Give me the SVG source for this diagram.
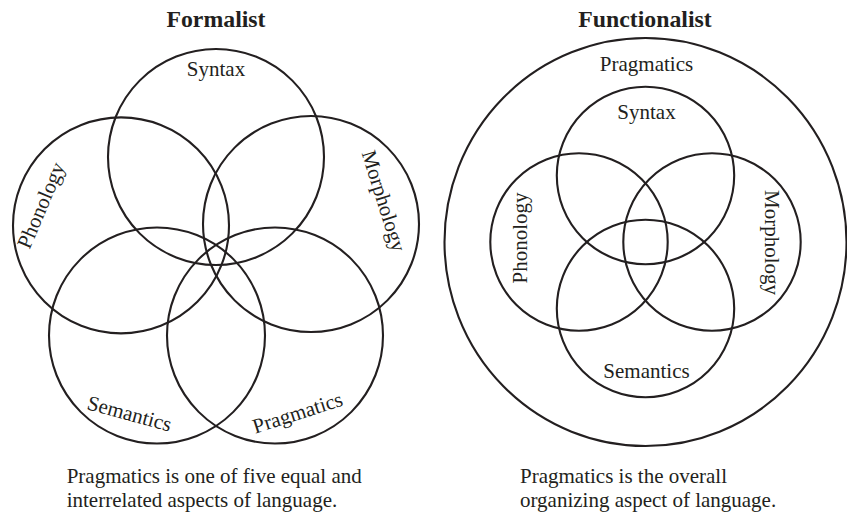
<svg xmlns="http://www.w3.org/2000/svg" width="847" height="512" viewBox="0 0 847 512">
  <style>
    .ring { fill: none; stroke: #231f20; stroke-width: 2.1; }
    .lbl { font-family: "Liberation Serif", "Times New Roman", serif; font-size: 21px; fill: #231f20; text-anchor: middle; }
    .title { font-family: "Liberation Serif", "Times New Roman", serif; font-size: 23.8px; font-weight: bold; fill: #231f20; text-anchor: middle; }
    .cap { font-family: "Liberation Serif", "Times New Roman", serif; font-size: 21px; fill: #231f20; }
  </style>
  <rect width="847" height="512" fill="#ffffff"/>

  <!-- Formalist -->
  <g id="formalist">
    <text class="title" x="216" y="26.7">Formalist</text>
    <g id="f-syntax">
      <circle class="ring" cx="216" cy="157" r="108"/>
      <text class="lbl" x="216" y="75.5">Syntax</text>
    </g>
    <g id="f-phonology">
      <circle class="ring" cx="121" cy="225.4" r="108"/>
      <text class="lbl" transform="translate(47.4,208) rotate(-67)">Phonology</text>
    </g>
    <g id="f-morphology">
      <circle class="ring" cx="311" cy="224" r="108"/>
      <text class="lbl" transform="translate(377.2,203) rotate(72.6)">Morphology</text>
    </g>
    <g id="f-semantics">
      <circle class="ring" cx="157" cy="335.5" r="108"/>
      <text class="lbl" transform="translate(127.7,420.3) rotate(15.3)">Semantics</text>
    </g>
    <g id="f-pragmatics">
      <circle class="ring" cx="275" cy="335.5" r="108"/>
      <text class="lbl" transform="translate(299.7,419.4) rotate(-17.8)">Pragmatics</text>
    </g>
    <text class="cap" x="66.7" y="483.3">Pragmatics is one of five equal and</text>
    <text class="cap" x="66.7" y="506.7">interrelated aspects of language.</text>
  </g>

  <!-- Functionalist -->
  <g id="functionalist">
    <text class="title" x="645" y="26.7">Functionalist</text>
    <g id="u-pragmatics">
      <ellipse class="ring" cx="645.5" cy="242" rx="201" ry="204"/>
      <text class="lbl" x="646.5" y="71">Pragmatics</text>
    </g>
    <g id="u-syntax">
      <circle class="ring" cx="645.5" cy="175.5" r="88.7"/>
      <text class="lbl" x="646.5" y="119">Syntax</text>
    </g>
    <g id="u-phonology">
      <circle class="ring" cx="579" cy="242" r="88.7"/>
      <text class="lbl" transform="translate(527,238) rotate(-90)">Phonology</text>
    </g>
    <g id="u-morphology">
      <circle class="ring" cx="712" cy="242" r="88.7"/>
      <text class="lbl" transform="translate(765,242.5) rotate(90)">Morphology</text>
    </g>
    <g id="u-semantics">
      <circle class="ring" cx="645.5" cy="308.5" r="88.7"/>
      <text class="lbl" x="646.5" y="378.3">Semantics</text>
    </g>
    <text class="cap" x="520" y="483.3">Pragmatics is the overall</text>
    <text class="cap" x="520" y="506.7">organizing aspect of language.</text>
  </g>
  <g id="connectors"/>
</svg>
